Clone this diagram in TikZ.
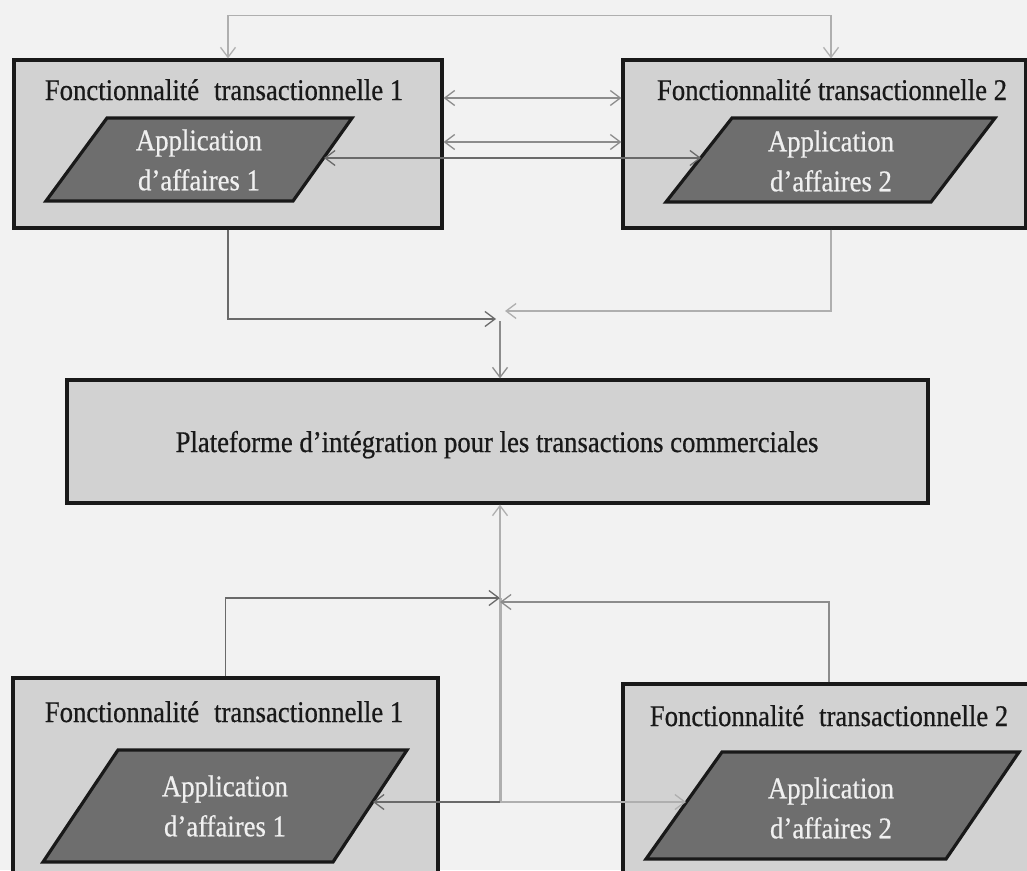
\documentclass[tikz,border=0pt]{standalone}
\usepackage{fontspec}
\setmainfont[FakeStretch=0.89,FakeBold=0.6]{Liberation Serif}
\usetikzlibrary{arrows.meta,calc}
\definecolor{paper}{HTML}{F2F2F2}
\definecolor{boxfill}{HTML}{D2D2D2}
\definecolor{appfill}{HTML}{6E6E6E}
\definecolor{apptext}{HTML}{F0F0F0}
\definecolor{linedark}{HTML}{6A6A6A}
\definecolor{linemid}{HTML}{8C8C8C}
\definecolor{linelight}{HTML}{AFAFAF}
\begin{document}
\begin{tikzpicture}[x=1pt,y=-1pt,
  >={Straight Barb[length=10pt,width=15pt]},
  fbox/.style={draw=black!90, line width=3.2pt, fill=boxfill, inner sep=0pt},
  appshape/.style={draw=black!90, line width=3.2pt, fill=appfill, line join=miter},
  title/.style={anchor=base, inner sep=0pt, text=black!90, font=\fontsize{30}{36}\selectfont},
  apptxt/.style={align=center, inner sep=0pt, text=apptext, font=\fontsize{30}{40}\selectfont},
  conn/.style={line width=1.3pt, draw=linemid},
  conndark/.style={line width=1.3pt, draw=linedark},
  connlight/.style={line width=1.3pt, draw=linelight},
  connwide/.style={line width=3pt, draw=linelight}]

\useasboundingbox (0,0) rectangle (1027,870);
\clip (0,0) rectangle (1027,870);
\fill[paper] (0,0) rectangle (1027,870);

% ---------- upper pair of transactional functions ----------
\node[fbox, minimum width=428pt, minimum height=168pt] (f1) at (228,144) {};
\node[fbox, minimum width=403pt, minimum height=168pt] (f2) at (824.5,144) {};
\node[title] (t1) at (224,100) {Fonctionnalité\enspace transactionnelle 1};
\node[title] (t2) at (832,100) {Fonctionnalité transactionnelle 2};

\path[appshape] (107,118) -- (352,118) -- (293,201) -- (46,201) -- cycle;
\path[appshape] (732,118) -- (995,118) -- (931,202) -- (666,202) -- cycle;
\node[apptxt] (a1) at (199,160) {Application\\d’affaires 1};
\node[apptxt] (a2) at (831,161) {Application\\d’affaires 2};
\coordinate (a1r) at (324,158);
\coordinate (a2l) at (701,158);

% ---------- integration platform ----------
\node[fbox, minimum width=861pt, minimum height=123pt] (plat) at (497.5,441.5) {};
\node[title] (pt) at (497,452) {Plateforme d’intégration pour les transactions commerciales};

% ---------- lower pair of transactional functions ----------
\node[fbox, minimum width=425pt, minimum height=207pt] (g1) at (225.5,781.5) {};
\node[fbox, minimum width=412pt, minimum height=201pt] (g2) at (829,784.5) {};
\node[title] (t3) at (224,722) {Fonctionnalité\enspace transactionnelle 1};
\node[title] (t4) at (829,726) {Fonctionnalité\enspace transactionnelle 2};

\path[appshape] (118,750) -- (407,750) -- (333,862) -- (43,862) -- cycle;
\path[appshape] (722,752) -- (1019,752) -- (946,859) -- (646,859) -- cycle;
\node[apptxt] (b1) at (225,806) {Application\\d’affaires 1};
\node[apptxt] (b2) at (831,808) {Application\\d’affaires 2};
\coordinate (b1r) at (373,802);
\coordinate (b2l) at (686,802);

% ---------- junction points ----------
\coordinate (jtl) at (496,319);
\coordinate (jtr) at (505,311);
\coordinate (jt) at (500,321);
\coordinate (jbl) at (500,598);
\coordinate (jbr) at (500,602);
\coordinate (jb) at (500,802);

% ---------- connectors, upper part ----------
\draw[connlight, <->] (f1.north) -- ++(0,-43) -| ([xshift=6.5pt]f2.north);
\draw[conn, <->] ([yshift=46pt]f1.east) -- ([yshift=46pt]f2.west);
\draw[conn, <->] ([yshift=2pt]f1.east) -- ([yshift=2pt]f2.west);
\draw[conndark, <->] (a1r) -- (a2l);
\draw[conndark, ->] (f1.south) |- (jtl);
\draw[connlight, ->] ([xshift=6.5pt]f2.south) |- (jtr);
\draw[conn, ->] (jt) -- (plat.north -| jt);

% ---------- connectors, lower part ----------
\draw[connwide] (jb) -- (jbl);
\draw[conndark, ->] (g1.north) |- (jbl);
\draw[conn, ->] (g2.north) |- (jbr);
\draw[connlight, ->] (jbl) -- (plat.south -| jbl);
\draw[conndark, ->] (jb) -- (b1r);
\draw[connlight, ->] (jb) -- (b2l);
\end{tikzpicture}
\end{document}
